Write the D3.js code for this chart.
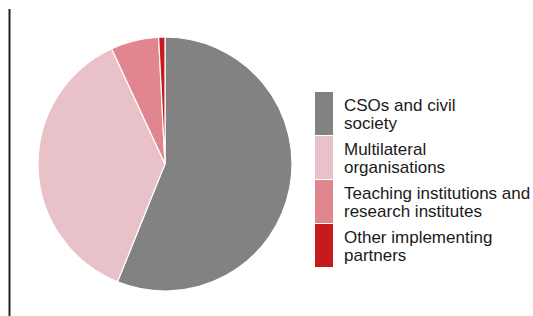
<!DOCTYPE html>
<html>
<head>
<meta charset="utf-8">
<script src="https://cdn.jsdelivr.net/npm/d3@7"></script>
<style>
  body { margin: 0; background: #fff; }
  svg { display: block; font-family: "Liberation Sans", Arial, sans-serif; }
</style>
</head>
<body>
<div id="chart"></div>
<script>
// data (share in %)
const categories = ["CSOs and civil society", "Multilateral organisations", "Teaching institutions and research institutes", "Other implementing partners"];
const labelLines = [["CSOs and civil", "society"], ["Multilateral", "organisations"], ["Teaching institutions and", "research institutes"], ["Other implementing", "partners"]];
const shares = [56.1, 37.0, 6.1, 0.8];
const colors = ["#828282", "#e9c1c8", "#e1858f", "#c61a1f"];

const width = 533, height = 316;
const svg = d3.select("#chart").append("svg")
  .attr("width", width)
  .attr("height", height);

// left rule
svg.append("line")
  .attr("x1", 9.5).attr("x2", 9.5)
  .attr("y1", 9).attr("y2", height)
  .attr("stroke", "#222")
  .attr("stroke-width", 2);

// --- pie ---
const cx = 165, cy = 164, radius = 127;
const color = d3.scaleOrdinal().domain(categories).range(colors);

const pie = d3.pie().sort(null).value(d => d.value);
const arc = d3.arc().innerRadius(0).outerRadius(radius);
const data = categories.map((c, i) => ({ name: c, value: shares[i] }));

svg.append("g")
  .attr("transform", `translate(${cx},${cy})`)
  .selectAll("path")
  .data(pie(data))
  .enter().append("path")
  .attr("d", arc)
  .attr("fill", d => color(d.data.name))
  .attr("stroke", "#fff")
  .attr("stroke-width", 1.2);

// --- legend ---
const legend = svg.selectAll(".legend")
  .data(categories)
  .enter().append("g")
  .attr("class", "legend")
  .attr("transform", (d, i) => `translate(315,${92 + i * 44})`);

legend.append("rect")
  .attr("width", 18)
  .attr("height", 43)
  .attr("fill", d => color(d));

legend.append("text")
  .attr("x", 29)
  .attr("y", 18.5)
  .style("font-size", "17px")
  .style("fill", "#1a1a1a")
  .selectAll("tspan")
  .data((d, i) => labelLines[i])
  .enter().append("tspan")
  .attr("x", 29)
  .attr("dy", (d, j) => j === 0 ? 0 : 18)
  .text(d => d);
</script>
</body>
</html>
